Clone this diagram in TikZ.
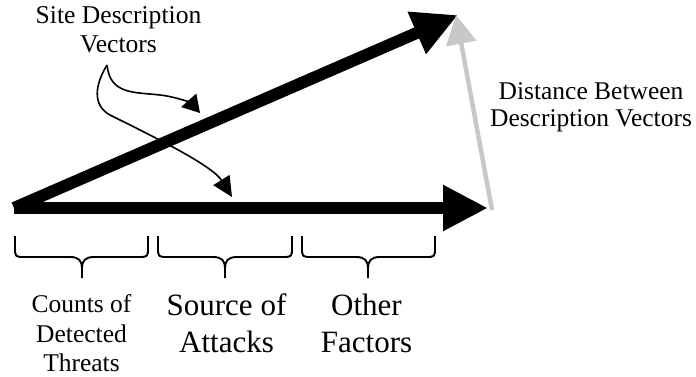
\documentclass[tikz,border=0pt]{standalone}
\usepackage{fontspec}
\setmainfont{Liberation Serif}
\usetikzlibrary{arrows.meta}
\begin{document}
\begin{tikzpicture}[x=1pt,y=-1pt,
  vec/.style={line width=12.5pt, -{Triangle[length=45pt,width=43pt]}},
  distvec/.style={line width=4.5pt, draw={rgb,255:red,200;green,200;blue,200}, -{Triangle[length=29pt,width=30pt]}},
  pointer/.style={line width=1.6pt},
  bracepath/.style={line width=1.9pt, line join=round},
  lbl/.style={inner sep=0pt, align=center, anchor=north},
  fmid/.style={font=\fontsize{25.6pt}{29pt}\selectfont},
  fbig/.style={font=\fontsize{31pt}{37pt}\selectfont}]
\useasboundingbox (0,0) rectangle (696,377);

% vector end points
\coordinate (O) at (14,208);
\coordinate (A) at (458,15);
\coordinate (B) at (488,208);
\coordinate (Bt) at (492,210);
\coordinate (At) at (456,15);

\draw[vec] (O) -- (B);
\draw[vec, line width=12pt] (O) -- (A);
\draw[distvec] (Bt) -- (At);

% labels
\node[lbl, fmid] (sdv) at (118.5,6.4) {Site Description\\Vectors};
\node[lbl, fmid, font=\fontsize{25.5pt}{27pt}\selectfont] (dbv) at (591,82.6) {Distance Between\\Description Vectors};
\node[lbl, fmid, font=\fontsize{25.5pt}{29.5pt}\selectfont] (cdt) at (81.5,294.6) {Counts of\\Detected\\Threats};
\node[lbl, fbig] (soa) at (226.5,293.8) {Source of\\Attacks};
\node[lbl, fbig] (ofa) at (366.5,293.8) {Other\\Factors};

% pointers from the label
\coordinate (src) at (107,65);
\coordinate (tipA) at (200,113);
\coordinate (tipB) at (232,197);
\draw[pointer, -{Triangle[length=17pt,width=20pt]}] (src) .. controls (110,95) and (135,92) .. (160,95)
  .. controls (178,97) and (192,104) .. (tipA);
\draw[pointer, -{Triangle[length=20pt,width=19pt]}] (src) .. controls (95,85) and (92,105) .. (110,115)
  .. controls (150,135) and (212,165) .. (tipB);

% braces
\foreach \xl/\xc/\xr in {15/82/148, 158/225/292, 302/368/435}{
  \draw[bracepath] (\xl,236) -- (\xl,247) .. controls (\xl,257) .. (\xl+10,257)
    -- (\xc-12,257) .. controls (\xc-3,257) and (\xc,261) .. (\xc,268) -- (\xc,278)
    (\xc,268) .. controls (\xc,261) and (\xc+3,257) .. (\xc+12,257)
    -- (\xr-10,257) .. controls (\xr,257) .. (\xr,247) -- (\xr,236);
}
\end{tikzpicture}
\end{document}
